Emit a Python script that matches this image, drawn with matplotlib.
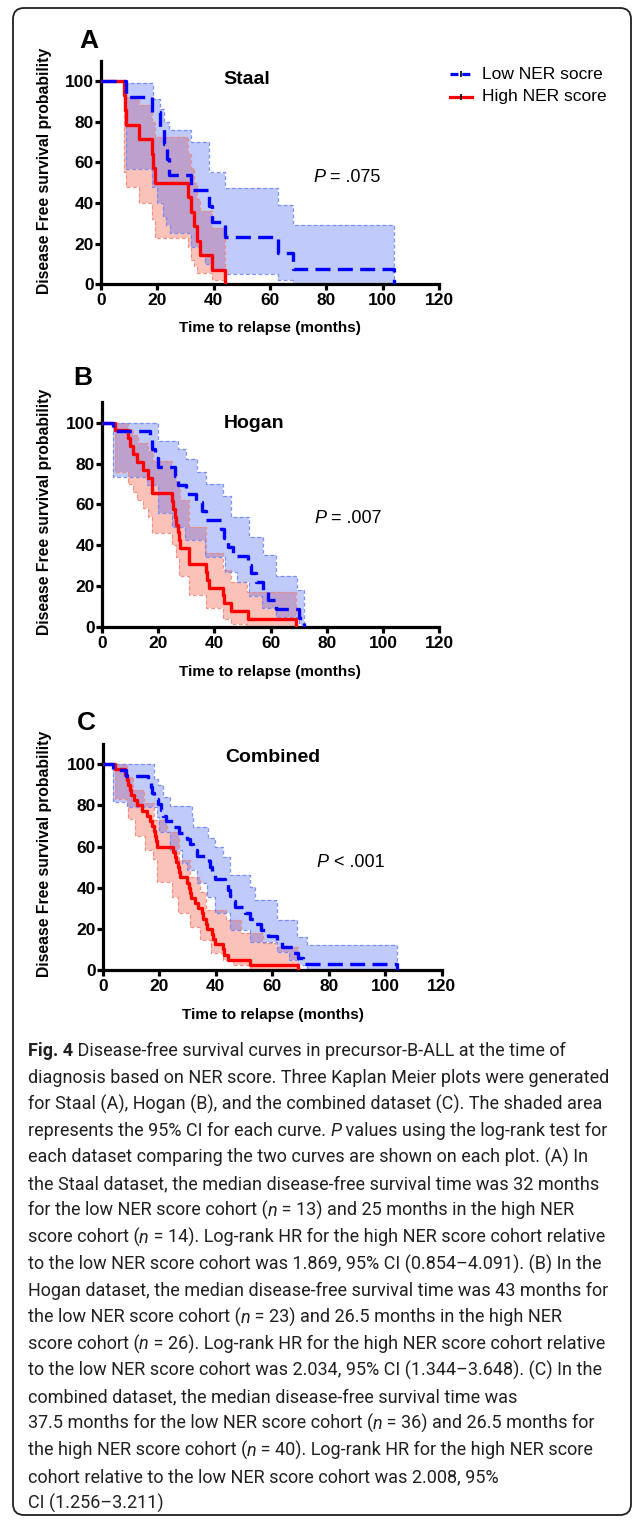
import numpy as np
import matplotlib
matplotlib.use("Agg")
import matplotlib.pyplot as plt
from matplotlib.lines import Line2D
from matplotlib.patches import FancyBboxPatch
from matplotlib.transforms import IdentityTransform

W, H = 634, 1520

# Kaplan Meier steps: time (months) and % disease free.
# *_up / *_dn are the upper and lower edges of the 95% CI band.

# Staal
staal_low_t = [0, 9, 18, 21, 22.5, 23.5, 24, 32, 38.5, 39.5, 44, 63, 68, 104]
staal_low_s = [100, 92.3, 84.6, 76.9, 69.2, 61.5, 53.8, 46.2, 38.5, 30.8, 23.1, 15.4, 7.7, 0]
staal_low_up_t = [0, 9, 18.5, 21, 22.5, 24, 32, 38.5, 44, 63, 68, 104]
staal_low_up_s = [100, 99, 91, 86, 80, 76, 70, 55, 47.5, 39, 29, 0]
staal_low_dn_t = [0, 9, 18, 20, 22, 23, 24.5, 32, 35, 37, 39, 44, 63, 68, 104]
staal_low_dn_s = [100, 56.5, 48, 40, 33, 29, 25, 18.5, 14, 10, 7, 5, 2, 0, 0]
staal_high_t = [0, 8.2, 8.4, 9, 13.5, 18, 18.5, 19, 31, 32, 33, 34, 35, 39.5, 44]
staal_high_s = [100, 92.9, 85.7, 78.6, 71.4, 64.3, 57.1, 50, 42.9, 35.7, 28.6, 21.4, 14.3, 7.1, 0]
staal_high_up_t = [0, 8.3, 13.5, 18, 19, 31, 32, 33, 34, 35, 39.5, 44]
staal_high_up_s = [100, 92, 88, 80, 72.5, 64, 57, 50, 42, 36, 27.5, 0]
staal_high_dn_t = [0, 8.3, 9, 13.5, 18, 19, 31, 32, 33, 34, 39.5, 44]
staal_high_dn_s = [100, 55, 48, 40, 32, 23, 18.5, 12, 9, 5.5, 2.3, 0]

# Hogan
hogan_low_t = [0, 4, 17, 18, 19, 20, 26, 27, 30, 33.5, 35.5, 37, 42.5, 43.5, 45, 46.5,
               52, 53, 55, 57.5, 59, 62, 70, 72]
hogan_low_s = [100, 95.7, 91.3, 87, 82.6, 78.3, 73.9, 69.6, 65.2, 60.9, 56.5, 52.2, 47.8,
               43.5, 39.1, 34.8, 30.4, 26.1, 21.7, 17.4, 13, 8.7, 4.3, 0]
hogan_low_up_t = [0, 20, 27, 30, 34, 37, 43, 46, 52.5, 57.5, 62, 69.5, 72]
hogan_low_up_s = [100, 91, 87, 82, 76, 70, 64, 54, 44, 35, 25, 18, 0]
hogan_low_dn_t = [0, 4, 16, 20, 25, 29.6, 36.7, 43.8, 48, 52.3, 57, 62, 70, 72]
hogan_low_dn_s = [100, 73.5, 69.5, 55.6, 49, 42.5, 34.3, 27, 22, 15, 9, 5, 1.5, 0]
hogan_high_t = [0, 4.7, 9.5, 10, 11.3, 12.4, 14.8, 16.6, 17.8, 18, 25, 25.5, 26, 26.5, 27,
                27.3, 28, 31, 31.2, 37, 37.5, 38, 43, 43.3, 46, 52, 69]
hogan_high_s = [100, 96.2, 92.3, 88.5, 84.6, 80.8, 76.9, 73.1, 69.2, 65.4, 61.5, 57.7, 53.8,
                50, 46.2, 42.3, 38.5, 34.6, 30.8, 26.9, 23.1, 19.2, 15.4, 11.5, 7.7, 3.8, 0]
hogan_high_up_t = [0, 9.5, 11.3, 13, 16.6, 18.4, 25, 26.5, 28, 31, 37, 43, 46, 51.5, 69]
hogan_high_up_s = [100, 97, 94, 90, 86, 81, 77, 70, 62, 49, 36, 28, 22, 17, 0]
hogan_high_dn_t = [0, 4.7, 9.5, 11.3, 12.4, 14.8, 16.6, 18, 25, 26.5, 27.5, 31, 37, 43, 46, 51.5, 69]
hogan_high_dn_s = [100, 76, 70, 66, 62, 58, 54, 46, 40, 34, 25, 15.5, 9, 4, 1.5, 0, 0]

# Combined
comb_low_t = [0, 3.8, 8.3, 16.2, 17, 17.6, 18.2, 19.5, 20.5, 21.3, 22.3, 25, 27, 30, 31, 32,
              33.3, 37.5, 38, 38.6, 39.8, 43.3, 44.2, 45, 46, 46.8, 50.5, 52.2, 54, 56, 58.6,
              61.6, 63.4, 67.5, 69.3, 71, 104]
comb_low_s = [100, 97.2, 94.4, 91.7, 88.9, 86.1, 83.3, 80.6, 77.8, 75, 72.2, 69.4, 66.7, 63.9,
              61.1, 58.3, 55.6, 52.8, 50, 47.2, 44.4, 41.7, 38.9, 36.1, 33.3, 30.6, 27.8, 25,
              22.2, 19.4, 16.7, 13.9, 11.1, 8.3, 5.6, 2.8, 0]
comb_low_up_t = [0, 18, 19.7, 21.5, 23.8, 31.5, 32, 37.4, 39.8, 42.7, 45, 52.2, 54, 61.6, 68.7, 72.2, 104]
comb_low_up_s = [100, 93, 90, 84.3, 79.7, 74.6, 69.7, 64, 60, 55, 46, 40.5, 34, 24.3, 16.2, 12.2, 0]
comb_low_dn_t = [0, 3.8, 8.5, 19.1, 20, 23.8, 28, 30, 33.3, 36.9, 39.8, 45, 52.2, 61.6, 66, 69.1, 72.2, 104]
comb_low_dn_s = [100, 81.8, 79.4, 74.5, 67.2, 58.3, 52, 48.6, 42.1, 35.6, 27.7, 19.4, 13.8, 8.9, 4.9, 2.4, 0, 0]
comb_high_t = [0, 4.4, 7.9, 8.5, 9, 9.5, 10, 11, 12, 14, 15.6, 16.8, 17.5, 18, 18.5, 18.8, 19.1,
               25, 25.5, 26, 26.5, 27, 27.5, 29.7, 30.5, 30.9, 31.3, 32.7, 33.9, 35, 35.5, 36.5,
               37, 38.6, 39, 39.8, 42.7, 43, 44.5, 52.2, 69.2]
comb_high_s = [100, 97.5, 95, 92.5, 90, 87.5, 85, 82.5, 80, 77.5, 75, 72.5, 70, 67.5, 65, 62.5,
               60, 57.5, 55, 52.5, 50, 47.5, 45, 42.5, 40, 37.5, 35, 32.5, 30, 27.5, 25, 22.5,
               20, 17.5, 15, 12.5, 10, 7.5, 5, 2.5, 0]
comb_high_up_t = [0, 8.5, 10.9, 14.6, 18.2, 22.9, 27, 31, 34.4, 36.7, 43.8, 49.1, 56.8, 61.5, 69.2]
comb_high_up_s = [100, 94, 87.5, 81, 73, 67.2, 53.5, 45.4, 38, 29.2, 24.3, 18, 13, 11.3, 0]
comb_high_dn_t = [0, 4.4, 8.5, 9.1, 11.5, 15, 17.9, 19.1, 24.4, 26.7, 30.9, 34.4, 38.5, 42.7, 46.2, 52.2, 69.2]
comb_high_dn_s = [100, 83, 79.4, 73.5, 65, 58.3, 54, 43, 35.6, 27.7, 21.1, 14.7, 8.2, 4.9, 2.4, 0, 0]

x_ticks = [0, 20, 40, 60, 80, 100, 120]
y_ticks = [0, 20, 40, 60, 80, 100]
series_names = ["Low NER socre", "High NER score"]

caption = [
    [("Fig. 4", "bold", "normal"), (" Disease-free survival curves in precursor-B-ALL at the time of", "normal", "normal")],
    [("diagnosis based on NER score. Three Kaplan Meier plots were generated", "normal", "normal")],
    [("for Staal (A), Hogan (B), and the combined dataset (C). The shaded area", "normal", "normal")],
    [("represents the 95% CI for each curve. ", "normal", "normal"), ("P", "normal", "italic"),
     (" values using the log-rank test for", "normal", "normal")],
    [("each dataset comparing the two curves are shown on each plot. (A) In", "normal", "normal")],
    [("the Staal dataset, the median disease-free survival time was 32 months", "normal", "normal")],
    [("for the low NER score cohort (", "normal", "normal"), ("n", "normal", "italic"),
     (" = 13) and 25 months in the high NER", "normal", "normal")],
    [("score cohort (", "normal", "normal"), ("n", "normal", "italic"),
     (" = 14). Log-rank HR for the high NER score cohort relative", "normal", "normal")],
    [("to the low NER score cohort was 1.869, 95% CI (0.854\u20134.091). (B) In the", "normal", "normal")],
    [("Hogan dataset, the median disease-free survival time was 43 months for", "normal", "normal")],
    [("the low NER score cohort (", "normal", "normal"), ("n", "normal", "italic"),
     (" = 23) and 26.5 months in the high NER", "normal", "normal")],
    [("score cohort (", "normal", "normal"), ("n", "normal", "italic"),
     (" = 26). Log-rank HR for the high NER score cohort relative", "normal", "normal")],
    [("to the low NER score cohort was 2.034, 95% CI (1.344\u20133.648). (C) In the", "normal", "normal")],
    [("combined dataset, the median disease-free survival time was", "normal", "normal")],
    [("37.5 months for the low NER score cohort (", "normal", "normal"), ("n", "normal", "italic"),
     (" = 36) and 26.5 months for", "normal", "normal")],
    [("the high NER score cohort (", "normal", "normal"), ("n", "normal", "italic"),
     (" = 40). Log-rank HR for the high NER score", "normal", "normal")],
    [("cohort relative to the low NER score cohort was 2.008, 95%", "normal", "normal")],
    [("CI (1.256\u20133.211)", "normal", "normal")],
]

LOW_COL = "#0000ff"
HIGH_COL = "#ff0000"
PLOT_FONT = ["Liberation Sans", "DejaVu Sans"]
CAP_FONT = ["Roboto", "Liberation Sans", "DejaVu Sans"]

plt.rcParams["font.family"] = PLOT_FONT

fig = plt.figure(figsize=(W / 100, H / 100), dpi=100)
renderer = fig.canvas.get_renderer()


def fx(x):
    return x / W


def fy(y):
    return 1 - y / H


def text_runs(x, y, parts, size, family, color="black"):
    # draw pieces of text one after another on the same baseline
    for txt, wt, st in parts:
        t = fig.text(fx(x), fy(y), txt, fontsize=size, family=family, weight=wt,
                     style=st, color=color, ha="left", va="baseline")
        x = t.get_window_extent(renderer).x1


def on_grid(t, v, grid):
    idx = np.searchsorted(t, grid, side="right") - 1
    return np.asarray(v, dtype=float)[idx]


def band(ax, up_t, up_s, dn_t, dn_s, fill_col, alpha, edge_col):
    grid = np.union1d(up_t, dn_t)
    ax.fill_between(grid, on_grid(dn_t, dn_s, grid), on_grid(up_t, up_s, grid),
                    step="post", color=fill_col, alpha=alpha, lw=0, zorder=1)
    for t, s in ((up_t, up_s), (dn_t, dn_s)):
        ax.step(t, s, where="post", color=edge_col, lw=0.9, dashes=(3, 2), alpha=0.9, zorder=1.5)


def panel(rect, low, high, title, title_xy, letter, letter_xy, p_parts, p_xy, ylab_y, xlab_xy):
    ax = fig.add_axes(rect)
    low_t, low_s, low_ut, low_us, low_dt, low_ds = low
    high_t, high_s, high_ut, high_us, high_dt, high_ds = high
    band(ax, high_ut, high_us, high_dt, high_ds, "#f5442a", 0.32, "#f08a7a")
    band(ax, low_ut, low_us, low_dt, low_ds, "#3d5cf5", 0.32, "#7088f5")
    ax.step(high_t, high_s, where="post", color=HIGH_COL, lw=2.4, zorder=3)
    ax.step(low_t, low_s, where="post", color=LOW_COL, lw=2.4, dashes=(4.5, 2.2), zorder=4)

    ax.set_xlim(0, 120)
    ax.set_ylim(0, 110)
    ax.set_xticks(x_ticks)
    ax.set_xticklabels([str(v) for v in x_ticks], fontweight="bold")
    ax.set_yticks(y_ticks)
    ax.set_yticklabels([str(v) for v in y_ticks], fontweight="bold")
    ax.tick_params(axis="both", width=2.3, length=4, labelsize=12.5)
    ax.tick_params(axis="x", pad=2.5)
    ax.tick_params(axis="y", pad=1)
    for side in ("top", "right"):
        ax.spines[side].set_visible(False)
    for side in ("left", "bottom"):
        ax.spines[side].set_linewidth(2.3)
    ax.patch.set_alpha(0)

    fig.text(fx(letter_xy[0]), fy(letter_xy[1]), letter, fontsize=19, weight="bold",
             ha="center", va="center")
    fig.text(fx(title_xy[0]), fy(title_xy[1]), title, fontsize=14, weight="bold",
             ha="center", va="center")
    text_runs(p_xy[0], p_xy[1], p_parts, 13, PLOT_FONT)
    fig.text(fx(45), fy(ylab_y), "Disease Free survival probability", fontsize=11.3,
             weight="bold", rotation=90, ha="center", va="center")
    fig.text(fx(xlab_xy[0]), fy(xlab_xy[1]), "Time to relapse (months)", fontsize=11,
             weight="bold", ha="center", va="center")
    return ax


panel([101 / W, fy(284.3), 338 / W, 223.6 / H],
      (staal_low_t, staal_low_s, staal_low_up_t, staal_low_up_s, staal_low_dn_t, staal_low_dn_s),
      (staal_high_t, staal_high_s, staal_high_up_t, staal_high_up_s, staal_high_dn_t, staal_high_dn_s),
      "Staal", (246.7, 80), "A", (88.7, 41),
      [("P", "normal", "italic"), (" = .075", "normal", "normal")], (313, 182), 171, (270, 328))

panel([101.7 / W, fy(626.7), 337.6 / W, 224.4 / H],
      (hogan_low_t, hogan_low_s, hogan_low_up_t, hogan_low_up_s, hogan_low_dn_t, hogan_low_dn_s),
      (hogan_high_t, hogan_high_s, hogan_high_up_t, hogan_high_up_s, hogan_high_dn_t, hogan_high_dn_s),
      "Hogan", (254, 423), "B", (82.5, 378),
      [("P", "normal", "italic"), (" = .007", "normal", "normal")], (314, 523), 512, (270, 672))

panel([102.7 / W, fy(970), 339 / W, 226.3 / H],
      (comb_low_t, comb_low_s, comb_low_up_t, comb_low_up_s, comb_low_dn_t, comb_low_dn_s),
      (comb_high_t, comb_high_s, comb_high_up_t, comb_high_up_s, comb_high_dn_t, comb_high_dn_s),
      "Combined", (272.7, 757), "C", (86.7, 723),
      [("P", "normal", "italic"), (" < .001", "normal", "normal")], (316.7, 867), 854, (272.7, 1015))

# legend (top right of panel A)
for i, (name, col) in enumerate(zip(series_names, (LOW_COL, HIGH_COL))):
    yy = fy(74.3 + 22.4 * i)
    kw = dict(dashes=(2.5, 1.2)) if i == 0 else {}
    fig.add_artist(Line2D([fx(450), fx(461), fx(472)], [yy, yy, yy], color=col, lw=2.3,
                          marker="|", markevery=[1], mec="black", ms=4, mew=1.2, **kw))
    fig.text(fx(482), yy, name, fontsize=12.5, ha="left", va="center")

# caption: pick the size so the second line is as wide as in the figure (~581 px)
probe = fig.text(0, 0, caption[1][0][0], fontsize=13.5, family=CAP_FONT)
cap_size = 13.5 * 581 / probe.get_window_extent(renderer).width
probe.remove()
for i, parts in enumerate(caption):
    text_runs(27.5, 1056.5 + 26.62 * i, parts, cap_size, CAP_FONT, color="#231f20")

# rounded frame
fig.add_artist(FancyBboxPatch((13, H - 1515), 618, 1507, boxstyle="round,pad=0,rounding_size=11",
                              transform=IdentityTransform(), fill=False, lw=1.3, ec="#231f20"))

fig.savefig("out.png", dpi=100)
